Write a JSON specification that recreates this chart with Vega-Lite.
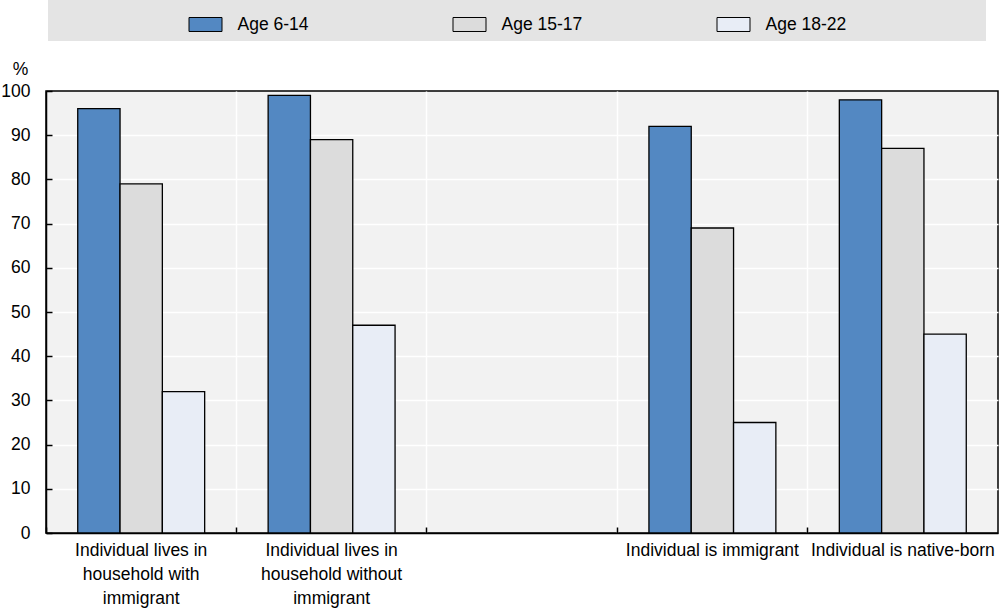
{
  "$schema": "https://vega.github.io/schema/vega-lite/v6.json",
  "width": 952,
  "height": 442,
  "autosize": {"type": "none"},
  "padding": {"left": 46, "top": 91, "right": 2, "bottom": 76},
  "background": "white",
  "config": {
    "font": "Liberation Sans",
    "view": {"fill": "#f2f2f2", "stroke": "#000", "strokeWidth": 1.5},
    "axis": {"labelFont": "Liberation Sans", "labelFontSize": 17.5, "labelColor": "#000", "titleFont": "Liberation Sans", "titleColor": "#000"},
    "legend": {"labelFont": "Liberation Sans", "labelFontSize": 17.5, "labelColor": "#000"}
  },
  "data": {
    "values": [
      {"category": "Individual lives in household with immigrant", "age": "Age 6-14", "value": 96},
      {"category": "Individual lives in household with immigrant", "age": "Age 15-17", "value": 79},
      {"category": "Individual lives in household with immigrant", "age": "Age 18-22", "value": 32},
      {"category": "Individual lives in household without immigrant", "age": "Age 6-14", "value": 99},
      {"category": "Individual lives in household without immigrant", "age": "Age 15-17", "value": 89},
      {"category": "Individual lives in household without immigrant", "age": "Age 18-22", "value": 47},
      {"category": "Individual is immigrant", "age": "Age 6-14", "value": 92},
      {"category": "Individual is immigrant", "age": "Age 15-17", "value": 69},
      {"category": "Individual is immigrant", "age": "Age 18-22", "value": 25},
      {"category": "Individual is native-born", "age": "Age 6-14", "value": 98},
      {"category": "Individual is native-born", "age": "Age 15-17", "value": 87},
      {"category": "Individual is native-born", "age": "Age 18-22", "value": 45}
    ]
  },
  "mark": {"type": "bar", "stroke": "#000", "strokeWidth": 1.3},
  "encoding": {
    "x": {
      "field": "category",
      "type": "nominal",
      "sort": null,
      "scale": {
        "domain": ["Individual lives in household with immigrant", "Individual lives in household without immigrant", "gap", "Individual is immigrant", "Individual is native-born"],
        "paddingInner": 0,
        "paddingOuter": 0
      },
      "axis": {
        "title": null,
        "labelAngle": 0,
        "bandPosition": 0,
        "labelAlign": "center",
        "labelBaseline": "top",
        "labelLineHeight": 24,
        "labelPadding": 14,
        "labelFlush": false,
        "labelOverlap": false,
        "labelBound": false,
        "labelLimit": 0,
        "labelExpr": "datum.value == 'Individual lives in household with immigrant' ? ['Individual lives in', 'household with', 'immigrant'] : datum.value == 'Individual lives in household without immigrant' ? ['Individual lives in', 'household without', 'immigrant'] : datum.value == 'gap' ? '' : datum.label",
        "domain": true,
        "domainColor": "#000",
        "domainWidth": 1.5,
        "ticks": true,
        "tickSize": -6,
        "tickColor": "#000",
        "tickWidth": 1.5,
        "grid": true,
        "gridColor": "#ffffff",
        "gridWidth": 1.5,
        "gridOpacity": {"condition": {"test": "datum.value == 'Individual lives in household with immigrant'", "value": 0}, "value": 1}
      }
    },
    "xOffset": {
      "field": "age",
      "type": "nominal",
      "sort": null,
      "scale": {"domain": ["Age 6-14", "Age 15-17", "Age 18-22"], "paddingInner": 0, "paddingOuter": 0.75}
    },
    "y": {
      "field": "value",
      "type": "quantitative",
      "scale": {"domain": [0, 100], "nice": false},
      "axis": {
        "values": [0, 10, 20, 30, 40, 50, 60, 70, 80, 90, 100],
        "title": "%",
        "titleAngle": 0,
        "titleX": -26,
        "titleY": -17,
        "titleAlign": "center",
        "titleBaseline": "alphabetic",
        "titleFontWeight": "normal",
        "titleFontSize": 17.5,
        "labelPadding": 22,
        "labelAlign": "right",
        "labelBaseline": "middle",
        "labelFlush": false,
        "labelOverlap": false,
        "labelBound": false,
        "domain": true,
        "domainColor": "#000",
        "domainWidth": 1.5,
        "ticks": true,
        "tickSize": -6,
        "tickColor": "#000",
        "tickWidth": 1.5,
        "grid": true,
        "gridColor": "#ffffff",
        "gridWidth": 1.5,
        "gridOpacity": {"condition": {"test": "datum.value == 0 || datum.value == 100", "value": 0}, "value": 1}
      }
    },
    "color": {
      "field": "age",
      "type": "nominal",
      "sort": null,
      "scale": {"domain": ["Age 6-14", "Age 15-17", "Age 18-22"], "range": ["#5388c2", "#dcdcdc", "#e8edf6"]},
      "legend": {
        "orient": "none",
        "legendX": 2,
        "legendY": -91,
        "direction": "horizontal",
        "gridAlign": "all",
        "columnPadding": 0,
        "fillColor": "#e4e4e4",
        "padding": 7.5,
        "title": "\u00a0",
        "titleOrient": "left",
        "titlePadding": 133,
        "symbolType": "M-1,-0.424H1V0.424H-1Z",
        "symbolSize": 1089,
        "symbolStrokeColor": "#000",
        "symbolStrokeWidth": 1,
        "symbolOpacity": 1,
        "labelOffset": 15,
        "labelLimit": 0,
        "labelExpr": "datum.label + '                           \u200b'"
      }
    }
  }
}
